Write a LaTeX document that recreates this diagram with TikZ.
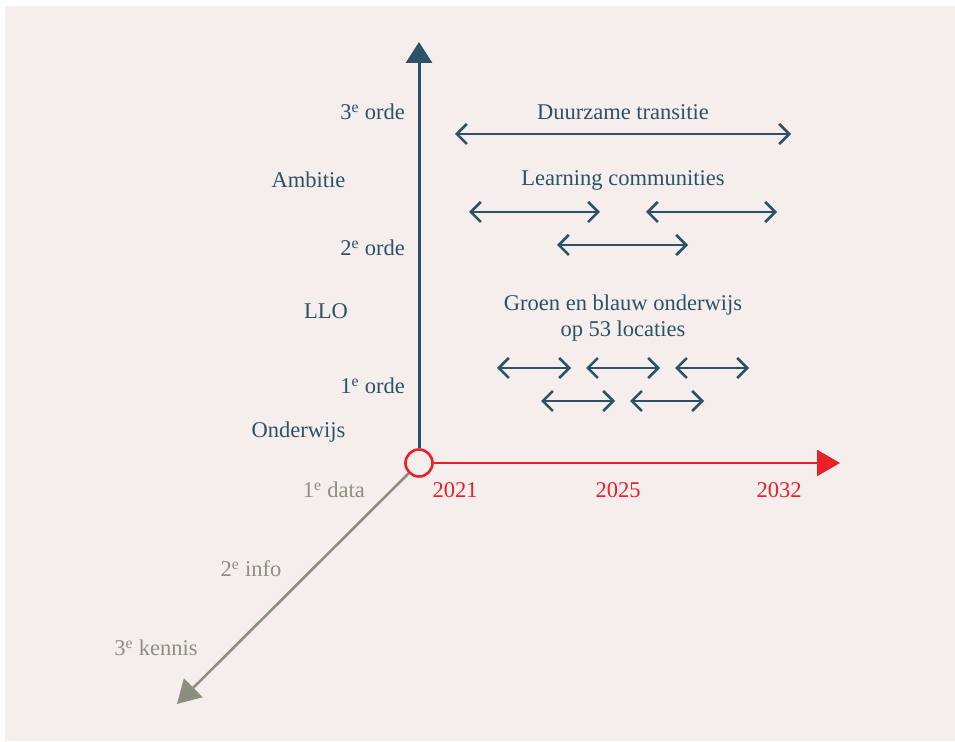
\documentclass[tikz,border=0pt]{standalone}
\usepackage{fontspec}
\setmainfont{Liberation Serif}
\usetikzlibrary{arrows.meta}
\definecolor{achtergrond}{RGB}{245,238,236}
\definecolor{blauwTikz}{RGB}{44,82,102}
\definecolor{roodTikz}{RGB}{232,32,40}
\definecolor{grijsTikz}{RGB}{140,143,128}
\tikzstyle{tekst}   =[font=\fontsize{22.5}{26}\selectfont, inner sep=0pt]
\tikzstyle{asY}     =[line width=3pt, color=blauwTikz, -{Triangle[length=21pt,width=26pt]}]
\tikzstyle{asX}     =[line width=2.6pt, color=roodTikz, -{Triangle[length=23pt,width=26pt]}]
\tikzstyle{asZ}     =[line width=2.6pt, color=grijsTikz, -{Triangle[length=23pt,width=26pt]}]
\tikzstyle{periode} =[line width=2.6pt, color=blauwTikz, {Straight Barb[length=10pt,width=20pt]}-{Straight Barb[length=10pt,width=20pt]}]

\begin{document}
\begin{tikzpicture}[x=10pt,y=10pt]
 \useasboundingbox (-41.9,-27.8) rectangle (53.6,46.3);
 \fill[achtergrond] (-41.4,-27.8) rectangle (53.6,45.7);
 % assen
 \node[circle, draw=roodTikz, line width=2.6pt, fill=achtergrond, minimum size=27pt, inner sep=0pt] (O) at (0,0) {};
 \coordinate (topY) at (0,42.1);
 \coordinate (topX) at (42.1,0);
 \coordinate (topZ) at (-24.2,-24.1);
 \draw[asY] (O) -- (topY);
 \draw[asX] (O) -- (topX);
 \draw[asZ] (O) -- (topZ);
 % labels verticale as
 \node[tekst, text=blauwTikz, anchor=east] (orde3) at (-1.4,35.1) {3\textsuperscript{e} orde};
 \node[tekst, text=blauwTikz] (ambitie) at (-11.05,28.3) {Ambitie};
 \node[tekst, text=blauwTikz, anchor=east] (orde2) at (-1.4,21.5) {2\textsuperscript{e} orde};
 \node[tekst, text=blauwTikz] (llo) at (-9.3,15.2) {LLO};
 \node[tekst, text=blauwTikz, anchor=east] (orde1) at (-1.4,7.7) {1\textsuperscript{e} orde};
 \node[tekst, text=blauwTikz] (onderwijs) at (-12.05,3.1) {Onderwijs};
 % labels schuine as
 \node[tekst, text=grijsTikz, anchor=east] (data) at (-5.4,-2.7) {1\textsuperscript{e} data};
 \node[tekst, text=grijsTikz] (info) at (-16.8,-10.6) {2\textsuperscript{e} info};
 \node[tekst, text=grijsTikz] (kennis) at (-26.3,-18.5) {3\textsuperscript{e} kennis};
 % jaren
 \node[tekst, text=roodTikz] (j2021) at (3.6,-2.7) {2021};
 \node[tekst, text=roodTikz] (j2025) at (19.9,-2.7) {2025};
 \node[tekst, text=roodTikz] (j2032) at (36,-2.7) {2032};
 % trajecten
 \node[tekst, text=blauwTikz] (duurzaam) at (20.4,35.1) {Duurzame transitie};
 \node[tekst, text=blauwTikz] (learning) at (20.4,28.3) {Learning communities};
 \node[tekst, text=blauwTikz, align=center] (groen) at (20.4,14.45) {Groen en blauw onderwijs\\op 53 locaties};
 \foreach \nm/\xa/\xb/\yy in {dt/3.6/37.2/32.9,
                              lca/5.0/18.1/25.1, lcb/22.7/35.8/25.1, lcc/13.8/26.9/21.8,
                              gba/7.8/15.2/9.5, gbb/16.7/24.1/9.5, gbc/25.6/33.0/9.5,
                              gbd/12.2/19.6/6.2, gbe/21.1/28.5/6.2}{
   \coordinate (\nm L) at (\xa,\yy);
   \coordinate (\nm R) at (\xb,\yy);
   \draw[periode] (\nm L) -- (\nm R);
 }
\end{tikzpicture}
\end{document}
